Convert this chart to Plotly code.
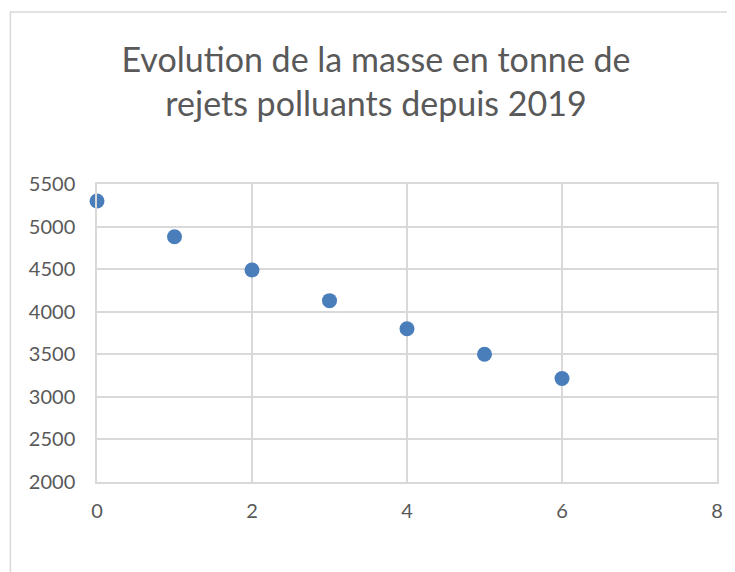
import plotly.graph_objects as go

# Data
years_since = [0, 1, 2, 3, 4, 5, 6]
masse = [5300, 4880, 4490, 4130, 3800, 3500, 3215]
y_ticks = [2000, 2500, 3000, 3500, 4000, 4500, 5000, 5500]
x_ticks = [0, 2, 4, 6, 8]
title_text = "Evolution de la masse en tonne de<br>rejets polluants depuis 2019"

OFF = 8  # page body margin
W, H = 735 - OFF, 572 - OFF
# screen-space plot box: left 97, right 720, top 184, bottom 482
ML, MT = 97 - OFF, 184 - OFF
MR = W - (720 - OFF)
MB = H - (482 - OFF)
pw = W - ML - MR
ph = H - MT - MB

def sx(px):
    return (px - OFF - ML) / pw

def sy(py):
    return (H - MB - (py - OFF)) / ph

fig = go.Figure()
fig.add_trace(go.Scatter(
    x=years_since, y=masse, mode="markers",
    marker=dict(size=15, color="#4a7ebb", line=dict(width=0)),
    showlegend=False, cliponaxis=False,
))

font_family = "Lato, 'Open Sans', sans-serif"
grid = "#d9d9d9"
fig.update_layout(
    width=W, height=H,
    margin=dict(l=ML, r=MR, t=MT, b=MB),
    paper_bgcolor="white", plot_bgcolor="white",
    title=dict(text=title_text, x=(376 - OFF) / W, xref="container", xanchor="center",
               y=1 - (72 - OFF) / H, yref="container", yanchor="middle",
               font=dict(family=font_family, size=34, color="#595959")),
    xaxis=dict(range=[0, 8], tickvals=x_ticks, showgrid=True, gridcolor=grid,
               gridwidth=1.5, zeroline=False, showline=True, linecolor=grid,
               linewidth=1.5, mirror=True, ticks="",
               tickfont=dict(family=font_family, size=20, color="#595959"),
               ticklabelstandoff=10, fixedrange=True),
    yaxis=dict(range=[2000, 5500], tickvals=y_ticks, showgrid=True, gridcolor=grid,
               gridwidth=1.5, zeroline=False, showline=True, linecolor=grid,
               linewidth=1.5, mirror=True, ticks="",
               tickfont=dict(family=font_family, size=20, color="#595959"),
               ticklabelstandoff=16, fixedrange=True),
    shapes=[dict(type="rect", xref="paper", yref="paper",
                 x0=sx(10), x1=sx(760),
                 y0=sy(600), y1=sy(12),
                 line=dict(color=grid, width=1.5), layer="below")],
)

fig.write_html("out.html")
